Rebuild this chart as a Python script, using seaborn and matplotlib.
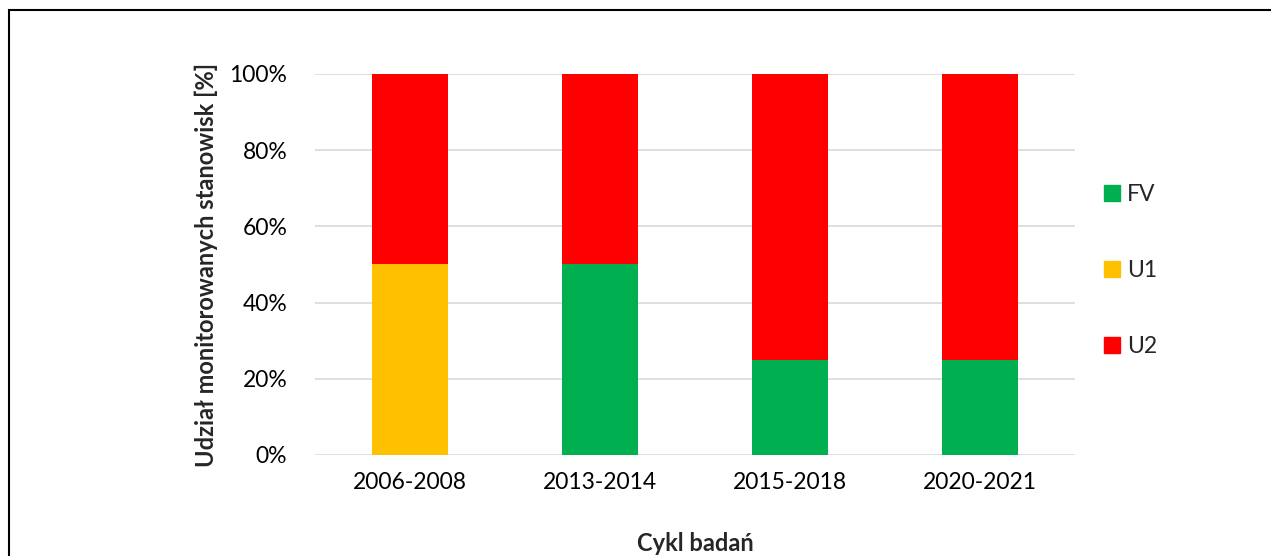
import matplotlib
matplotlib.use("Agg")
import matplotlib.pyplot as plt
import seaborn as sns
import numpy as np
from matplotlib.patches import Rectangle
from matplotlib.ticker import PercentFormatter

# Dane
cykle = ["2006-2008", "2013-2014", "2015-2018", "2020-2021"]
fv = [0, 50, 25, 25]
u1 = [50, 0, 0, 0]
u2 = [50, 50, 75, 75]

kolory = {"FV": "#00B050", "U1": "#FFC000", "U2": "#FF0000"}

sns.set_style("white")
plt.rcParams["font.family"] = ["Lato", "DejaVu Sans"]

fig = plt.figure(figsize=(12.71, 5.56), dpi=100)
ax = fig.add_axes([0.2478, 0.1817, 0.598, 0.6853])

dol = np.zeros(len(cykle))
for nazwa, wartosci in [("FV", fv), ("U1", u1), ("U2", u2)]:
    sns.barplot(x=cykle, y=wartosci, bottom=dol, color=kolory[nazwa],
                width=0.4, ax=ax, saturation=1, linewidth=0)
    dol = dol + np.array(wartosci)

ax.set_ylim(0, 100)
ax.set_xlim(-0.5, 3.5)
ax.set_yticks(range(0, 101, 20))
ax.yaxis.set_major_formatter(PercentFormatter(decimals=0))
ax.grid(axis="y", color="#d9d9d9", linewidth=1.2)
ax.set_axisbelow(True)
for s in ax.spines.values():
    s.set_visible(False)
ax.tick_params(axis="both", length=0, labelsize=16.5, colors="black")
ax.tick_params(axis="y", pad=20)
ax.tick_params(axis="x", pad=12)

ax.set_ylabel("Udział monitorowanych stanowisk [%]", fontsize=17,
              fontweight="bold", labelpad=8)
ax.set_xlabel("Cykl badań", fontsize=17, fontweight="bold", labelpad=28)

uchwyty = [plt.Line2D([], [], marker="s", linestyle="", markersize=11,
                      color=kolory[k]) for k in ["FV", "U1", "U2"]]
fig.legend(uchwyty, ["FV", "U1", "U2"], loc="upper left",
           bbox_to_anchor=(0.8486, 0.707), frameon=False, fontsize=16.5,
           labelspacing=2.4, handletextpad=0.1, handlelength=1.1)

# Ramka
fig.patches.append(Rectangle((9 / 1271, -0.1), 1.2, 1.1 - 10 / 556,
                             transform=fig.transFigure, fill=False,
                             edgecolor="black", linewidth=1.5))

fig.savefig("out.png", dpi=100)
